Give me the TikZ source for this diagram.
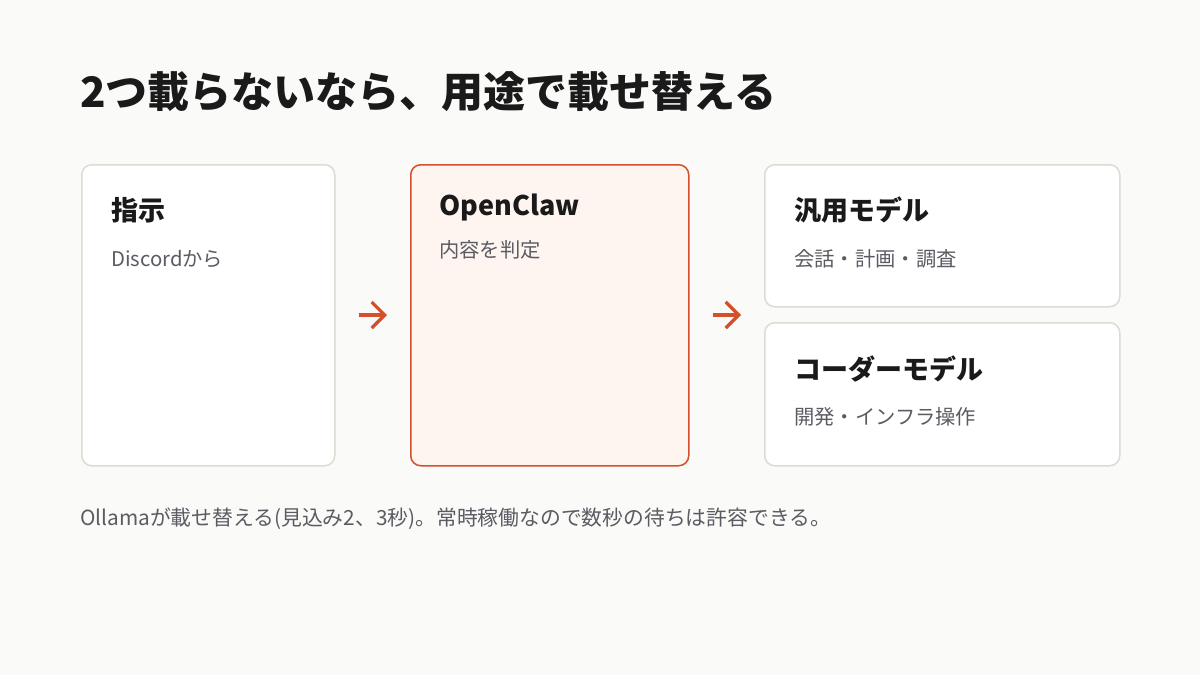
\documentclass[tikz,border=0pt]{standalone}
\usepackage{fontspec}
\setmainfont{Noto Sans CJK JP}
\usetikzlibrary{arrows.meta}
\definecolor{bg}{HTML}{FAFAF8}
\definecolor{cardline}{HTML}{DDDBD3}
\definecolor{accent}{HTML}{D4502A}
\definecolor{accentfill}{HTML}{FEF5F1}
\definecolor{ink}{HTML}{1A1A1A}
\definecolor{sub}{HTML}{5B5B63}
\begin{document}
\begin{tikzpicture}[x=1pt,y=-1pt,
  card/.style={draw=cardline,line width=1.5pt,fill=white,rounded corners=10pt,
    anchor=north west,inner sep=0pt},
  hotcard/.style={card,draw=accent,fill=accentfill},
  cardtitle/.style={anchor=base west,inner sep=0pt,font=\fontsize{27}{30}\selectfont\bfseries,text=ink},
  cardsub/.style={anchor=base west,inner sep=0pt,font=\fontsize{20.3}{24}\selectfont,text=sub},
  flow/.style={draw=accent,line width=3.2pt,-{Straight Barb[length=13pt,width=26pt,line width=3.2pt]},
    shorten <=23pt,shorten >=23pt}]
\fill[bg] (0,0) rectangle (1200,675);
\useasboundingbox (0,0) rectangle (1200,675);

\node[anchor=base west,inner sep=0pt,font=\fontsize{42}{46}\selectfont\bfseries,text=ink]
  (title) at (80,107) {2つ載らないなら、用途で載せ替える};

\node[card,minimum width=253pt,minimum height=301pt] (a) at (81,164) {};
\node[hotcard,minimum width=278pt,minimum height=301pt] (b) at (410,164) {};
\node[card,minimum width=355pt,minimum height=142pt] (c) at (764,164) {};
\node[card,minimum width=355pt,minimum height=143pt] (d) at (764,322) {};

\node[cardtitle] (at) at (111,220) {指示};
\node[cardsub] (as) at (111,266) {Discordから};
\node[cardtitle] (bt) at (439,215) {OpenClaw};
\node[cardsub] (bs) at (439,257) {内容を判定};
\node[cardtitle] (ct) at (794,220) {汎用モデル};
\node[cardsub] (cs) at (794,266) {会話・計画・調査};
\node[cardtitle] (dt) at (794,379) {コーダーモデル};
\node[cardsub] (ds) at (794,424) {開発・インフラ操作};

\coordinate (split) at (764,315);
\draw[flow] (a.east |- 0,315) -- (b.west |- 0,315);
\draw[flow] (b.east |- 0,315) -- (split);

\node[anchor=base west,inner sep=0pt,font=\fontsize{20.8}{24}\selectfont,text=sub]
  (note) at (80,525) {Ollamaが載せ替える(見込み2、3秒)。常時稼働なので数秒の待ちは許容できる。};
\end{tikzpicture}
\end{document}
